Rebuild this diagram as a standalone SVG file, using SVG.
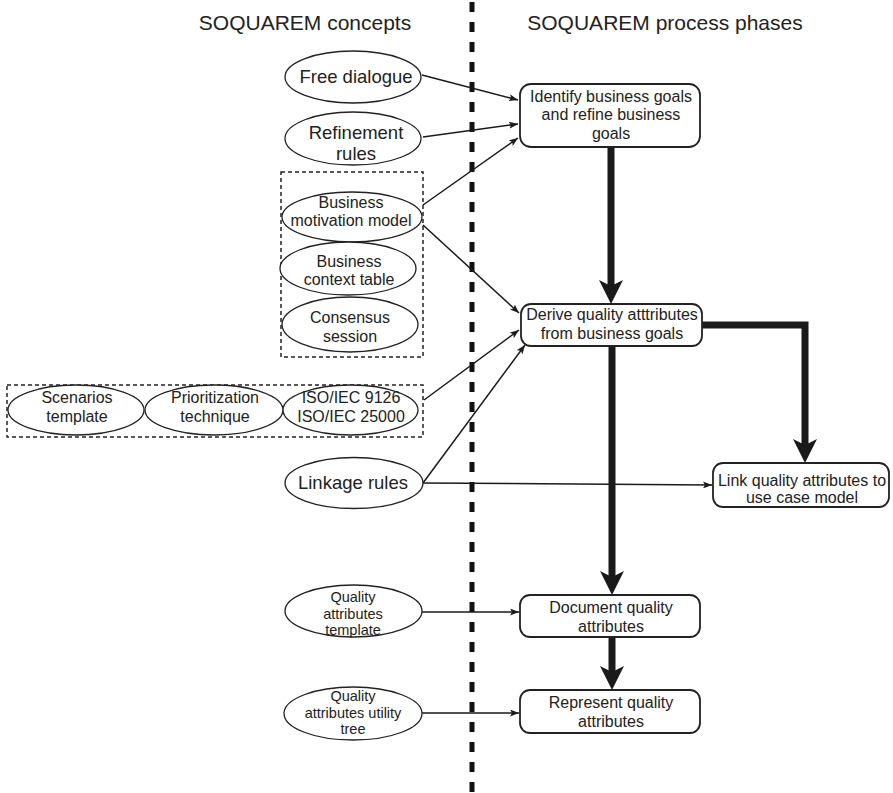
<svg xmlns="http://www.w3.org/2000/svg" width="893" height="793" viewBox="0 0 893 793">
  <defs>
    <!-- heavy notched arrowhead for process flow -->
    <marker id="bigArrow" viewBox="0 0 24 24" markerWidth="24" markerHeight="24" markerUnits="userSpaceOnUse" refX="6" refY="12" orient="auto">
      <path d="M0,0 L24,12 L0,24 L6,12 Z" fill="#1a1a1a"/>
    </marker>
    <!-- small arrowhead for concept inputs -->
    <marker id="smallArrow" viewBox="0 0 9 7" markerWidth="9" markerHeight="7" markerUnits="userSpaceOnUse" refX="9" refY="3.5" orient="auto">
      <path d="M0,0 L9,3.5 L0,7 L2,3.5 Z" fill="#1a1a1a"/>
    </marker>
    <style>
      .title { font-family: "Liberation Sans", Arial, sans-serif; font-size: 21px; fill: #222; text-anchor: middle; }
      .lbl { font-family: "Liberation Sans", Arial, sans-serif; font-size: 16px; fill: #222; text-anchor: middle; }
      .big { font-size: 18.5px; }
      .small { font-size: 14.5px; }
      .concept { fill: #fff; stroke: #222; stroke-width: 1.3; }
      .phase { fill: #fff; stroke: #222; stroke-width: 1.8; }
      .group { fill: none; stroke: #222; stroke-width: 1.5; stroke-dasharray: 4 3; }
      .thin { fill: none; stroke: #1a1a1a; stroke-width: 1.5; marker-end: url(#smallArrow); }
      .thick { fill: none; stroke: #1a1a1a; stroke-width: 7; stroke-linejoin: miter; marker-end: url(#bigArrow); }
      .divider { stroke: #111; stroke-width: 5; stroke-dasharray: 10 10; }
    </style>
  </defs>

  <rect width="893" height="793" fill="#fff"/>

  <!-- column headings -->
  <text class="title" x="305" y="30">SOQUAREM concepts</text>
  <text class="title" x="665" y="30">SOQUAREM process phases</text>

  <!-- divider between concepts and phases -->
  <line class="divider" x1="472" y1="2" x2="472" y2="793"/>

  <!-- grouping frames -->
  <rect class="group" x="281" y="172" width="142" height="185"/>
  <rect class="group" x="7" y="385" width="416" height="52"/>

  <!-- connectors -->
  <g id="connectors">
    <line class="thin" x1="422" y1="75" x2="518" y2="100"/>
    <line class="thin" x1="423" y1="137" x2="518" y2="124"/>
    <line class="thin" x1="423" y1="205" x2="518" y2="138"/>
    <line class="thin" x1="423" y1="225" x2="519" y2="313"/>
    <line class="thin" x1="424" y1="400" x2="519" y2="330"/>
    <line class="thin" x1="423" y1="483" x2="525" y2="345"/>
    <line class="thin" x1="423" y1="483" x2="712" y2="485"/>
    <line class="thin" x1="422" y1="612" x2="519" y2="612"/>
    <line class="thin" x1="422" y1="713" x2="519" y2="713"/>

    <line class="thick" x1="611" y1="147" x2="611" y2="286"/>
    <line class="thick" x1="612" y1="346" x2="612" y2="577"/>
    <polyline class="thick" points="702,325 805,325 805,445"/>
    <line class="thick" x1="612" y1="637" x2="612" y2="672"/>
  </g>

  <!-- concepts -->
  <g id="free-dialogue">
    <ellipse class="concept" cx="353" cy="77" rx="68" ry="26"/>
    <text class="lbl big" x="356" y="83">Free dialogue</text>
  </g>
  <g id="refinement-rules">
    <ellipse class="concept" cx="353" cy="138.5" rx="68" ry="26.5"/>
    <text class="lbl big" x="356" y="139">Refinement</text>
    <text class="lbl big" x="356" y="160">rules</text>
  </g>
  <g id="business-motivation-model">
    <ellipse class="concept" cx="352" cy="217" rx="70" ry="25"/>
    <text class="lbl" x="351" y="208">Business</text>
    <text class="lbl" x="351" y="226">motivation model</text>
  </g>
  <g id="business-context-table">
    <ellipse class="concept" cx="348" cy="268.5" rx="68" ry="26.5"/>
    <text class="lbl" x="349" y="267">Business</text>
    <text class="lbl" x="349" y="285">context table</text>
  </g>
  <g id="consensus-session">
    <ellipse class="concept" cx="350" cy="324.5" rx="68" ry="27.5"/>
    <text class="lbl" x="350" y="323">Consensus</text>
    <text class="lbl" x="350" y="342">session</text>
  </g>
  <g id="scenarios-template">
    <ellipse class="concept" cx="76" cy="410" rx="68" ry="25"/>
    <text class="lbl" x="77" y="403">Scenarios</text>
    <text class="lbl" x="77" y="422">template</text>
  </g>
  <g id="prioritization-technique">
    <ellipse class="concept" cx="214" cy="410" rx="69" ry="25"/>
    <text class="lbl" x="215" y="403">Prioritization</text>
    <text class="lbl" x="215" y="422">technique</text>
  </g>
  <g id="iso-iec">
    <ellipse class="concept" cx="350.5" cy="410" rx="67.5" ry="25"/>
    <text class="lbl" x="351" y="403">ISO/IEC 9126</text>
    <text class="lbl" x="351" y="422">ISO/IEC 25000</text>
  </g>
  <g id="linkage-rules">
    <ellipse class="concept" cx="354" cy="483" rx="69" ry="25.5"/>
    <text class="lbl big" x="353" y="489">Linkage rules</text>
  </g>
  <g id="quality-attributes-template">
    <ellipse class="concept" cx="353.5" cy="611" rx="68.5" ry="26"/>
    <text class="lbl small" x="353" y="602">Quality</text>
    <text class="lbl small" x="353" y="618.5">attributes</text>
    <text class="lbl small" x="353" y="635">template</text>
  </g>
  <g id="quality-attributes-utility-tree">
    <ellipse class="concept" cx="353" cy="713.5" rx="69" ry="26.5"/>
    <text class="lbl small" x="353" y="701">Quality</text>
    <text class="lbl small" x="353" y="717.5">attributes utility</text>
    <text class="lbl small" x="353" y="734">tree</text>
  </g>

  <!-- process phases -->
  <g id="identify-goals">
    <rect class="phase" x="520" y="84" width="180" height="63" rx="11"/>
    <text class="lbl" x="611" y="102">Identify business goals</text>
    <text class="lbl" x="611" y="120">and refine business</text>
    <text class="lbl" x="611" y="139">goals</text>
  </g>
  <g id="derive-attributes">
    <rect class="phase" x="521" y="304" width="181" height="42" rx="10"/>
    <text class="lbl" x="612" y="320">Derive quality atttributes</text>
    <text class="lbl" x="612" y="339">from business goals</text>
  </g>
  <g id="link-use-case">
    <rect class="phase" x="713" y="463" width="176" height="44" rx="10"/>
    <text class="lbl" x="802" y="486">Link quality attributes to</text>
    <text class="lbl" x="802" y="503">use case model</text>
  </g>
  <g id="document-attributes">
    <rect class="phase" x="520" y="595" width="180" height="42" rx="10"/>
    <text class="lbl" x="611" y="613">Document quality</text>
    <text class="lbl" x="611" y="632">attributes</text>
  </g>
  <g id="represent-attributes">
    <rect class="phase" x="520" y="690" width="180" height="43" rx="10"/>
    <text class="lbl" x="611" y="708">Represent quality</text>
    <text class="lbl" x="611" y="727">attributes</text>
  </g>
</svg>
